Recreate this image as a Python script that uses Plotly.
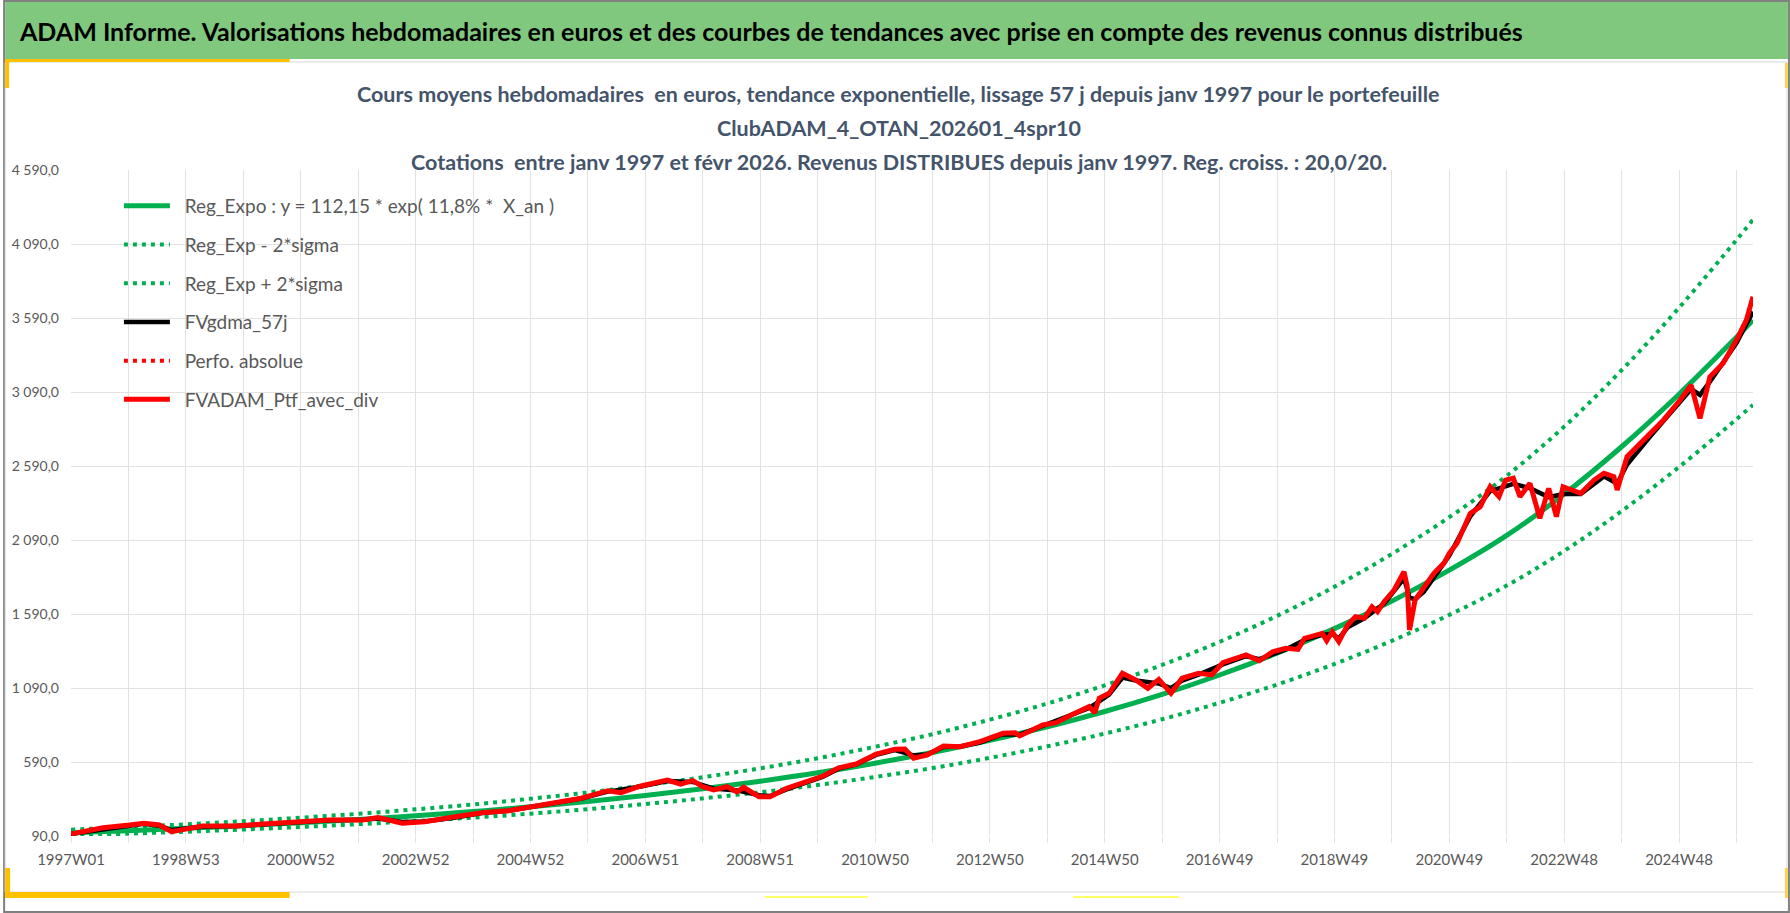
from plotly import graph_objs as go

W, H = 1790, 913
ML, MR, MT, MB = 68, 37, 170, 77
PW, PH = W - ML - MR, H - MT - MB

FONT = "Lato, sans-serif"
GREEN = "#00B050"
RED = "#FF0000"
GRID = "#E2E2E2"
TICK_COLOR = "#595959"
TITLE_COLOR = "#44546A"

# week index since 1997W01 for the x axis
week_labels = ["1997W01", "1998W53", "2000W52", "2002W52", "2004W52", "2006W51", "2008W51",
               "2010W50", "2012W50", "2014W50", "2016W49", "2018W49", "2020W49", "2022W48", "2024W48"]
last_week = 1523

# exponential trend and its +/- 2 sigma bands, read every 52 weeks
trend_weeks = list(range(0, 1509, 52)) + [last_week]
trend_values = [112, 126, 142, 160, 180, 202, 227, 255, 287, 323, 364, 409, 460, 517, 582, 654,
                736, 828, 931, 1047, 1178, 1325, 1491, 1677, 1886, 2121, 2400, 2720, 3075, 3460, 3575]
band_low = [94, 106, 119, 134, 151, 170, 191, 214, 241, 271, 306, 344, 386, 434, 489, 549,
            618, 696, 782, 879, 990, 1113, 1252, 1409, 1584, 1782, 2016, 2285, 2583, 2906, 3003]
band_high = [133, 150, 169, 190, 214, 240, 270, 303, 342, 384, 433, 487, 547, 615, 693, 778,
             876, 985, 1108, 1246, 1402, 1577, 1774, 1996, 2244, 2524, 2856, 3237, 3659, 4117, 4254]

# portfolio with distributed income (weekly average)
ptf_weeks = [0, 29, 53, 66, 80, 91, 119, 150, 174, 198, 234, 264, 278, 300, 320, 348, 372, 396,
             432, 462, 486, 498, 516, 528, 540, 552, 563, 572, 582, 594, 603, 609, 623, 633, 648,
             666, 681, 695, 711, 729, 746, 755, 763, 769, 775, 790, 805, 823, 844, 855, 859, 880,
             892, 907, 922, 927, 931, 940, 952, 964, 975, 985, 996, 1006, 1021, 1033, 1043, 1064,
             1076, 1088, 1100, 1111, 1117, 1133, 1137, 1142, 1148, 1156, 1163, 1171, 1178, 1183,
             1189, 1198, 1207, 1210, 1212, 1217, 1225, 1234, 1243, 1248, 1255, 1267, 1276, 1285,
             1293, 1299, 1306, 1312, 1321, 1330, 1338, 1345, 1351, 1367, 1379, 1388, 1397, 1400,
             1409, 1418, 1430, 1442, 1457, 1467, 1475, 1481, 1484, 1496, 1508, 1517, 1523]
ptf_values = [104, 146, 164, 176, 164, 119, 157, 157, 171, 180, 198, 198, 214, 176, 187, 220, 247, 261,
              306, 345, 396, 383, 428, 446, 468, 441, 464, 423, 401, 423, 389, 419, 356, 356, 412,
              457, 495, 551, 576, 644, 676, 678, 615, 626, 637, 698, 693, 727, 784, 788, 766, 840,
              856, 912, 964, 923, 1020, 1054, 1189, 1144, 1088, 1148, 1054, 1156, 1189, 1178, 1261, 1313,
              1274, 1335, 1358, 1351, 1426, 1459, 1410, 1470, 1403, 1516, 1572, 1561, 1639, 1606,
              1673, 1752, 1876, 1774, 1482, 1685, 1774, 1865, 1932, 2000, 2068, 2270, 2315, 2450,
              2383, 2495, 2507, 2383, 2473, 2237, 2439, 2248, 2450, 2406, 2495, 2541, 2518, 2428,
              2653, 2720, 2811, 2901, 3036, 3137, 2912, 3126, 3193, 3284, 3441, 3576, 3734]

# 57-day smoothed series
ma_weeks = [0, 53, 66, 80, 91, 119, 150, 198, 234, 264, 278, 300, 320, 348, 372, 396, 432, 462,
            486, 516, 540, 563, 582, 603, 623, 633, 648, 666, 681, 695, 711, 729, 746, 763, 775,
            790, 805, 823, 844, 859, 880, 907, 922, 931, 940, 952, 964, 985, 996, 1006, 1021, 1043,
            1064, 1076, 1100, 1117, 1133, 1142, 1148, 1156, 1171, 1189, 1198, 1207, 1212, 1217,
            1225, 1234, 1248, 1267, 1285, 1306, 1321, 1338, 1351, 1367, 1388, 1400, 1409, 1430,
            1457, 1467, 1475, 1484, 1508, 1523]
ma_values = [104, 162, 172, 160, 130, 152, 157, 180, 196, 200, 208, 185, 188, 215, 245, 260, 304, 343,
             390, 425, 462, 455, 410, 398, 365, 360, 405, 452, 490, 545, 574, 638, 670, 635, 640,
             692, 695, 722, 778, 775, 835, 905, 955, 1000, 1045, 1160, 1140, 1120, 1090, 1140, 1180, 1250,
             1305, 1285, 1350, 1415, 1450, 1455, 1425, 1500, 1560, 1660, 1740, 1830, 1700, 1690,
             1740, 1840, 1985, 2250, 2420, 2470, 2440, 2380, 2400, 2400, 2520, 2470, 2600, 2790,
             3020, 3110, 3070, 3160, 3420, 3633]

y_ticks = list(range(90, 4591, 500))


def px_x(px):
    return (px - ML) / PW


def px_y(py):
    return (H - MB - py) / PH


def fr_number(v):
    return f"{v:,.1f}".replace(",", " ").replace(".", ",")


def rect(x0, y0, x1, y1, fill=None, line=None, width=0):
    return dict(type="rect", xref="paper", yref="paper", layer="below",
                x0=px_x(x0), x1=px_x(x1), y0=px_y(y0), y1=px_y(y1),
                fillcolor=fill, line=dict(color=line, width=width))


def make_chart():
    fig = go.Figure()
    series = [
        ("Reg_Expo : y = 112,15 * exp( 11,8% *  X_an )", trend_weeks, trend_values, GREEN, "solid", 5),
        ("Reg_Exp - 2*sigma", trend_weeks, band_low, GREEN, "4px,5px", 4),
        ("Reg_Exp + 2*sigma", trend_weeks, band_high, GREEN, "4px,5px", 4),
        ("FVgdma_57j", ma_weeks, ma_values, "black", "solid", 4.5),
        ("Perfo. absolue", [None], [None], RED, "4px,5px", 4),
        ("FVADAM_Ptf_avec_div", ptf_weeks, ptf_values, RED, "solid", 5),
    ]
    for i, (name, xs, ys, color, dash, width) in enumerate(series):
        shape = "spline" if xs is trend_weeks else "linear"
        fig.add_trace(go.Scatter(x=xs, y=ys, name="\u00a0\u00a0" + name, mode="lines", legendgroup=str(i),
                                 line=dict(color=color, dash=dash, width=width, shape=shape)))

    shapes = [
        rect(1, 1, W - 1, H - 1, line="#808080", width=2),
        rect(2, 62, 1787, 892, line="#D9D9D9", width=1),
        rect(2, 2, 1788, 59, fill="#80C87E"),
        rect(2, 59, 287, 62, fill="#FFC000"),
        rect(2, 59, 6, 88, fill="#FFC000"),
        rect(2, 892, 287, 898, fill="#FFC000"),
        rect(2, 868, 7, 898, fill="#FFC000"),
        rect(1785, 63, 1788, 88, fill="#FFD24D"),
        rect(1785, 868, 1788, 898, fill="#FFD24D"),
        rect(763, 896, 866, 898, fill="#FFFF66"),
        rect(1072, 896, 1178, 898, fill="#FFFF66"),
    ]

    subtitle = [
        "Cours moyens hebdomadaires  en euros, tendance exponentielle, lissage 57 j depuis janv 1997 pour le portefeuille",
        "ClubADAM_4_OTAN_202601_4spr10",
        "Cotations  entre janv 1997 et févr 2026. Revenus DISTRIBUES depuis janv 1997. Reg. croiss. : 20,0/20.",
    ]
    annotations = [dict(text="<b>ADAM Informe. Valorisations hebdomadaires en euros et des courbes de tendances"
                             " avec prise en compte des revenus connus distribués</b>",
                        xref="paper", yref="paper", x=px_x(14), y=px_y(31), xanchor="left", yanchor="middle",
                        showarrow=False, font=dict(family=FONT, size=25, color="black"))]
    for text, py in zip(subtitle, [94, 128, 162]):
        annotations.append(dict(text="<b>" + text + "</b>", xref="paper", yref="paper",
                                x=px_x(897), y=px_y(py), xanchor="center", yanchor="middle",
                                showarrow=False, font=dict(family=FONT, size=21.5, color=TITLE_COLOR)))

    fig.update_layout(
        width=W, height=H,
        margin=dict(l=ML, r=MR, t=MT, b=MB),
        paper_bgcolor="white", plot_bgcolor="white",
        font=dict(family=FONT, color=TICK_COLOR),
        shapes=shapes,
        annotations=annotations,
        showlegend=True,
        legend=dict(x=px_x(116), y=px_y(187), xanchor="left", yanchor="top",
                    traceorder="grouped", tracegroupgap=11, itemwidth=46,
                    font=dict(family=FONT, size=19, color=TICK_COLOR), bgcolor="rgba(0,0,0,0)"),
    )
    fig.update_xaxes(
        range=[0, last_week], tickmode="array",
        tickvals=[i * 104 for i in range(len(week_labels))], ticktext=week_labels,
        showgrid=True, gridcolor=GRID, gridwidth=1, zeroline=False, showline=False,
        ticks="outside", ticklen=6, tickcolor=GRID, ticklabelstandoff=4,
        tickfont=dict(family=FONT, size=15, color=TICK_COLOR),
        minor=dict(tickvals=list(range(0, last_week, 52)), showgrid=True, gridcolor=GRID,
                   ticks="outside", ticklen=6, tickcolor=GRID),
    )
    fig.update_yaxes(
        range=[90, 4590], tickmode="array", tickvals=y_ticks,
        ticktext=[fr_number(v) for v in y_ticks],
        showgrid=True, gridcolor=GRID, gridwidth=1, zeroline=False, showline=False,
        ticks="", ticklabelstandoff=11,
        tickfont=dict(family=FONT, size=14, color=TICK_COLOR),
    )
    return fig


if __name__ == '__main__':
    fig = make_chart()
    # the page body has a default margin; remove it so the figure fills the window
    fig.write_html("out.html", config={"displayModeBar": False},
                   post_script="document.body.style.margin = '0';")
